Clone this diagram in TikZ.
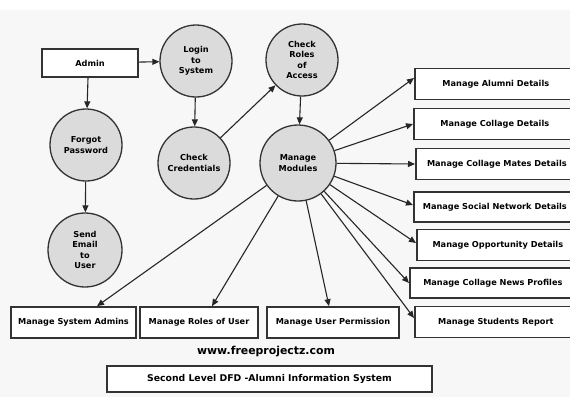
\documentclass[tikz,border=0pt]{standalone}
\usepackage{fontspec}
\setmainfont{DejaVu Sans}
\usetikzlibrary{arrows.meta}
\tikzset{
  proc/.style={circle, draw=black!80, line width=1.3pt, fill=black!14, minimum size=72pt, inner sep=0pt, align=center, font=\fontsize{8.2}{10.5}\selectfont\bfseries},
  ent/.style={rectangle, draw=black!80, line width=1.7pt, fill=white, inner sep=0pt, align=center, font=\fontsize{8.2}{10}\selectfont\bfseries},
  flow/.style={draw=black!85, line width=1.1pt, -{Triangle[length=7pt,width=6pt]}},
}
\begin{document}
\begin{tikzpicture}[x=1pt,y=-1pt]
\useasboundingbox (0,0) rectangle (570,397);
\fill[white] (0,0) rectangle (570,397);
\fill[black!3] (0,10) rectangle (570,397);

% entities
\node[ent, minimum width=96pt, minimum height=28pt] (admin) at (90,63) {Admin};

\node[ent, anchor=west, minimum width=162pt, minimum height=31pt] (alumni) at (414,84) {Manage Alumni Details};
\node[ent, anchor=west, minimum width=162pt, minimum height=31pt] (collage) at (413,124) {Manage Collage Details};
\node[ent, anchor=west, minimum width=162pt, minimum height=31pt] (mates) at (415,164) {Manage Collage Mates Details};
\node[ent, anchor=west, minimum width=162pt, minimum height=30pt] (social) at (413,207) {Manage Social Network Details};
\node[ent, anchor=west, minimum width=162pt, minimum height=31pt] (opport) at (416,245) {Manage Opportunity Details};
\node[ent, anchor=west, minimum width=166pt, minimum height=30pt] (news) at (409,283) {Manage Collage News Profiles};
\node[ent, anchor=west, minimum width=162pt, minimum height=31pt] (students) at (414,322) {Manage Students Report};

\node[ent, minimum width=125pt, minimum height=31pt] (sysadm) at (73.5,322.5) {Manage System Admins};
\node[ent, minimum width=118pt, minimum height=31pt] (roles) at (199,322.5) {Manage Roles of User};
\node[ent, minimum width=132pt, minimum height=31pt] (perm) at (333,322.5) {Manage User Permission};

% processes
\node[proc] (login) at (196,61) {Login\\to\\System};
\node[proc] (forgot) at (86,145) {Forgot\\Password};
\node[proc] (cred) at (194,163) {Check\\Credentials};
\node[proc] (croles) at (302,60) {Check\\Roles\\of\\Access};
\node[proc, minimum size=76pt] (modules) at (298,163) {Manage\\Modules};
\node[proc, minimum size=74pt] (email) at (85,250) {Send\\Email\\to\\User};

% footer
\node[font=\fontsize{10.9}{13}\selectfont\bfseries] (www) at (266,352) {www.freeprojectz.com};
\node[ent, line width=1.4pt, minimum width=325pt, minimum height=26pt, font=\fontsize{9.3}{11}\selectfont\bfseries] (title) at (269.5,379) {Second Level DFD -Alumni Information System};

% flows
\draw[flow] (admin) -- (login);
\draw[flow] ([xshift=-2pt]admin.south) -- (forgot);
\draw[flow] (login) -- (cred);
\draw[flow] (forgot) -- (email);
\draw[flow] (cred) -- (croles);
\draw[flow] (croles) -- (modules);

\draw[flow] (modules) -- ([yshift=6pt]alumni.west);
\draw[flow] (modules) -- (collage.west);
\draw[flow] (modules) -- (mates.west);
\draw[flow] (modules) -- ([yshift=2pt]social.west);
\draw[flow] (modules) -- ([yshift=2pt]opport.west);
\draw[flow] (modules) -- (news.west);
\draw[flow] (modules) -- ([yshift=4pt]students.west);
\draw[flow] (modules) -- ([xshift=23.5pt]sysadm.north);
\draw[flow] (modules) -- ([xshift=13pt]roles.north);
\draw[flow] (modules) -- ([xshift=-4pt]perm.north);
\end{tikzpicture}
\end{document}
